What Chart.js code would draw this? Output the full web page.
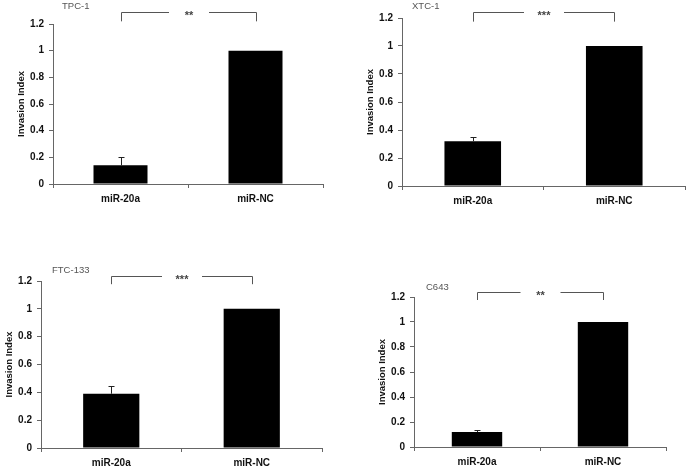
<!DOCTYPE html>
<html>
<head>
<meta charset="utf-8">
<script src="https://cdn.jsdelivr.net/npm/chart.js@4"></script>
<style>
  body { margin: 0; background: #fff; width: 689px; height: 470px; position: relative; overflow: hidden; }
  canvas { position: absolute; }
</style>
</head>
<body>
<canvas id="p1"></canvas>
<canvas id="p2"></canvas>
<canvas id="p3"></canvas>
<canvas id="p4"></canvas>
<script>
// data
const categories = ["miR-20a", "miR-NC"];
const cellLines = ["TPC-1", "XTC-1", "FTC-133", "C643"];
const significance = ["**", "***", "***", "**"];
const yTicks = [0, 0.2, 0.4, 0.6, 0.8, 1, 1.2];

const tpcValues = [0.14, 1];
const tpcErrors = [0.065, 0];
const xtcValues = [0.32, 1];
const xtcErrors = [0.03, 0];
const ftcValues = [0.39, 1];
const ftcErrors = [0.055, 0];
const c643Values = [0.12, 1];
const c643Errors = [0.015, 0];

const Y_W = 50, X_H = 30, PAD_TOP = 24, PAD_RIGHT = 8;

// error bars + bracket + panel label
const extrasPlugin = {
  id: "extras",
  afterDatasetsDraw(chart, args, opts) {
    const ctx = chart.ctx;
    const x = chart.scales.x, y = chart.scales.y;
    ctx.save();
    // error bars (upper only)
    ctx.strokeStyle = "#222";
    ctx.lineWidth = 1;
    opts.values.forEach((v, i) => {
      const e = opts.errors[i];
      if (!e) return;
      const cx = Math.round(x.getPixelForValue(i)) + 0.5;
      const y0 = y.getPixelForValue(v);
      const y1 = Math.round(y.getPixelForValue(v + e)) + 0.5;
      ctx.beginPath();
      ctx.moveTo(cx, y0);
      ctx.lineTo(cx, y1);
      ctx.moveTo(cx - 3, y1);
      ctx.lineTo(cx + 3, y1);
      ctx.stroke();
    });
    // bracket
    const xa = Math.round(x.getPixelForValue(0)) + 0.5;
    const xb = Math.round(x.getPixelForValue(1)) + 0.5;
    const yt = Math.round(y.getPixelForValue(opts.bracketTop)) + 0.5;
    const yl = y.getPixelForValue(opts.bracketLeg);
    const mid = (xa + xb) / 2;
    ctx.strokeStyle = "#555";
    ctx.beginPath();
    ctx.moveTo(xa, yl);
    ctx.lineTo(xa, yt);
    ctx.lineTo(mid - 20, yt);
    ctx.moveTo(mid + 20, yt);
    ctx.lineTo(xb, yt);
    ctx.lineTo(xb, yl);
    ctx.stroke();
    ctx.fillStyle = "#444";
    ctx.font = "bold 11px 'Liberation Sans', Arial, sans-serif";
    ctx.textAlign = "center";
    ctx.textBaseline = "middle";
    ctx.fillText(opts.stars, mid, yt + 3);
    // cell line label
    ctx.fillStyle = "#555";
    ctx.font = "9.5px 'Liberation Sans', Arial, sans-serif";
    ctx.textAlign = "left";
    ctx.fillText(opts.label, chart.chartArea.left + opts.labelDx, chart.chartArea.top + opts.labelDy);
    ctx.restore();
  }
};

function makePanel(id, area, values, errors, idx, bracket, labelPos) {
  const canvas = document.getElementById(id);
  const w = area.right - area.left + Y_W + PAD_RIGHT;
  const h = area.bottom - area.top + PAD_TOP + X_H;
  canvas.width = w;
  canvas.height = h;
  canvas.style.left = (area.left - Y_W) + "px";
  canvas.style.top = (area.top - PAD_TOP) + "px";
  canvas.style.width = w + "px";
  canvas.style.height = h + "px";

  const tickFont = { family: "'Liberation Sans', Arial, sans-serif", size: 10, weight: "bold" };

  new Chart(canvas, {
    type: "bar",
    data: {
      labels: categories,
      datasets: [{
        data: values,
        backgroundColor: "#000",
        borderWidth: 0,
        categoryPercentage: 1,
        barPercentage: 0.4
      }]
    },
    options: {
      responsive: false,
      animation: false,
      devicePixelRatio: 1,
      layout: { padding: { top: PAD_TOP, right: PAD_RIGHT, left: 0, bottom: 0 } },
      plugins: {
        legend: { display: false },
        tooltip: { enabled: false },
        extras: {
          values: values,
          errors: errors,
          stars: significance[idx],
          label: cellLines[idx],
          bracketTop: bracket[0],
          bracketLeg: bracket[1],
          labelDx: labelPos[0],
          labelDy: labelPos[1]
        }
      },
      scales: {
        x: {
          grid: { offset: true, drawOnChartArea: false, drawTicks: true, tickLength: 4, color: "#666" },
          border: { color: "#666", width: 1 },
          ticks: { color: "#111", font: tickFont, padding: 5 },
          afterFit(scale) { scale.height = X_H; }
        },
        y: {
          min: 0,
          max: 1.2,
          grid: { drawOnChartArea: false, drawTicks: true, tickLength: 4, color: "#666" },
          border: { color: "#666", width: 1 },
          ticks: { color: "#111", font: tickFont, padding: 5, callback: (v) => String(Math.round(v * 10) / 10) },
          afterBuildTicks(scale) { scale.ticks = yTicks.map(v => ({ value: v })); },
          title: {
            display: true,
            text: "Invasion Index",
            color: "#111",
            font: { family: "'Liberation Sans', Arial, sans-serif", size: 9.5, weight: "bold" },
            padding: { top: 13, bottom: 0 }
          },
          afterFit(scale) { scale.width = Y_W; }
        }
      }
    },
    plugins: [extrasPlugin]
  });
}

makePanel("p1", { left: 53, right: 323, top: 24, bottom: 184 }, tpcValues, tpcErrors, 0, [1.29, 1.22], [9, -18]);
makePanel("p2", { left: 402, right: 685, top: 18, bottom: 186 }, xtcValues, xtcErrors, 1, [1.245, 1.174], [10, -12]);
makePanel("p3", { left: 41, right: 322, top: 281, bottom: 448 }, ftcValues, ftcErrors, 2, [1.238, 1.177], [11, -11]);
makePanel("p4", { left: 414, right: 666, top: 297, bottom: 447 }, c643Values, c643Errors, 3, [1.24, 1.176], [12, -10]);
</script>
</body>
</html>
